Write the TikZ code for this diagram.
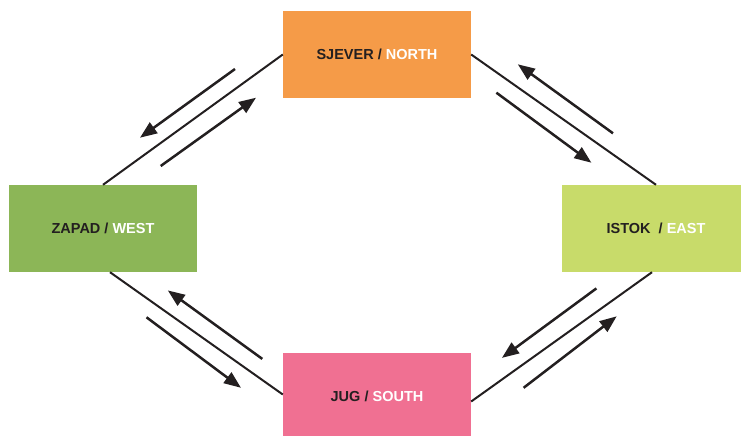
\documentclass[tikz,border=0pt]{standalone}
\usepackage{fontspec}
\setmainfont{Liberation Sans}
\usetikzlibrary{arrows.meta}
\definecolor{northc}{RGB}{245,155,72}
\definecolor{westc}{RGB}{140,182,87}
\definecolor{eastc}{RGB}{200,219,106}
\definecolor{southc}{RGB}{240,112,146}
\definecolor{ink}{RGB}{35,31,32}
\tikzset{
  box/.style={rectangle, inner sep=0pt, minimum width=188pt, minimum height=87pt,
    text=ink, font=\fontsize{14.5}{17}\selectfont\bfseries},
  link/.style={draw=ink, line width=2pt},
  flow/.style={draw=ink, line width=2.5pt, -{Triangle[length=17pt,width=13pt]}},
}
\begin{document}
\begin{tikzpicture}[x=1pt,y=-1pt]
\useasboundingbox (0,0) rectangle (741,436);
\clip (0,0) rectangle (741,436);
\node[box, fill=northc] (N) at (377,54.5) {SJEVER / \textcolor{white}{NORTH}};
\node[box, fill=westc]  (W) at (103,228.5) {ZAPAD / \textcolor{white}{WEST}};
\node[box, fill=eastc]  (E) at (656,228.5) {ISTOK \ / \textcolor{white}{EAST}};
\node[box, fill=southc] (S) at (377,396.5) {JUG / \textcolor{white}{SOUTH}};
% connecting lines
\draw[link] (N.west) -- (W.north);
\draw[link] (N.east) -- (E.north);
\draw[link] ([xshift=7pt]W.south) -- ([yshift=2pt]S.west);
\draw[link] ([xshift=-4pt]E.south) -- ([yshift=-5pt]S.east);
% arrow end points
\coordinate (a1s) at (235,69);     \coordinate (a1e) at (140,137.7);
\coordinate (a2s) at (160.7,166);  \coordinate (a2e) at (256,97.7);
\coordinate (a3s) at (613,133.3);  \coordinate (a3e) at (517.8,64.3);
\coordinate (a4s) at (496.4,92.7); \coordinate (a4e) at (591.4,162.7);
\coordinate (a5s) at (262.3,358.9);\coordinate (a5e) at (167.8,290.4);
\coordinate (a6s) at (146.5,317.3);\coordinate (a6e) at (241,387.8);
\coordinate (a7s) at (596.4,288.4);\coordinate (a7e) at (501.9,357.9);
\coordinate (a8s) at (523.6,387.8);\coordinate (a8e) at (616.7,316.3);
\draw[flow] (a1s) -- (a1e);
\draw[flow] (a2s) -- (a2e);
\draw[flow] (a3s) -- (a3e);
\draw[flow] (a4s) -- (a4e);
\draw[flow] (a5s) -- (a5e);
\draw[flow] (a6s) -- (a6e);
\draw[flow] (a7s) -- (a7e);
\draw[flow] (a8s) -- (a8e);
\end{tikzpicture}
\end{document}
